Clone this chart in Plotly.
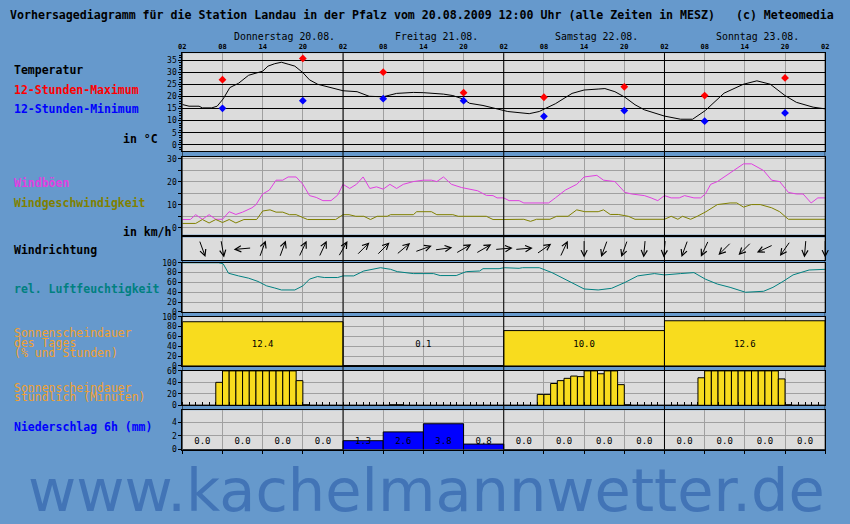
import math
import plotly.graph_objects as go

W, H = 850, 524
X0, X1 = 180, 829
FONT = "DejaVu Sans Mono"

# ---------------- data ----------------
hour_tick_labels = ["02", "08", "14", "20"] * 4 + ["02"]
day_labels = ["Donnerstag 20.08.", "Freitag 21.08.", "Samstag 22.08.", "Sonntag 23.08."]

temp_hours = [0, 1, 2.5, 3, 4.4, 5.2, 6.1, 6.7, 7.1, 8.4, 9.9, 12, 12.8, 13.8, 14.8, 15.8, 16.8, 18, 19,
              20.2, 22.2, 24, 26.1, 27.1, 27.9, 30, 32, 34.5, 36, 39, 40.4, 41.9, 42.9, 44.9, 46.8,
              48.6, 51.8, 53.3, 54.1, 55.7, 58.2, 60, 62.1, 63.1, 64.6, 66.1, 67.6, 69, 72, 74.4, 76.2,
              78.1, 80.9, 83.8, 85.8, 87.8, 90, 91.7, 94.2, 96]
temp_values = [16.7, 16.0, 16.0, 15.3, 15.3, 16.0, 19.0, 21.7, 23.7, 25.5, 28.8, 30.5, 32.6, 33.6, 34.2, 33.4,
               32.6, 29.9, 26.9, 25.1, 23.7, 22.4, 22.0, 21.0, 20.1, 19.9, 21.3, 21.7, 21.6, 21.0, 20.4,
               19.0, 17.2, 16.3, 14.9, 13.8, 12.9, 13.8, 14.9, 17.0, 21.3, 22.7, 23.1, 23.3, 22.0, 19.7,
               16.6, 14.5, 11.9, 10.6, 10.6, 14.2, 21.4, 25.1, 26.5, 25.1, 20.4, 17.6, 15.6, 14.9]

ext_hours = [6, 18, 30, 42, 54, 66, 78, 90]
tmax_values = [27.0, 35.8, 30.1, 21.6, 19.7, 24.0, 20.4, 27.7]
tmin_values = [15.1, 18.3, 19.1, 18.3, 11.8, 14.2, 9.8, 13.2]

gust_hours = [0, 1.2, 2, 3, 4, 5, 6, 7, 8, 9, 10.4, 11, 12, 13, 14, 15, 15.8, 17, 18, 19, 20, 21, 22.2,
              23.2, 24, 25, 26, 27, 28, 29, 30, 31, 32, 33, 34.5, 36, 37.2, 38, 39, 40.2, 41.7, 42.9,
              44.1, 45.4, 46.4, 47, 48, 48.8, 50.3, 51, 54.7, 55.7, 57.2, 58.9, 60, 61.9, 62.9, 64.6,
              66.1, 67.1, 69, 70, 71, 72, 73, 74.2, 75, 76.4, 77.4, 78.1, 78.9, 79.9, 81.8, 83.8, 85,
              86.8, 88, 89.2, 90.5, 91.7, 92.7, 93.9, 94.9, 96]
gust_values = [3.6, 3.6, 5.7, 3.7, 5.7, 3.7, 3.7, 7.0, 5.8, 6.8, 8.7, 10.0, 14.7, 16.4, 20.7, 20.7, 22.1,
               22.1, 18.9, 14.0, 13.2, 11.8, 11.8, 14.2, 18.9, 17.1, 18.9, 22.1, 17.1, 17.8, 16.8, 18.9,
               17.1, 18.9, 20.1, 20.7, 20.7, 20.1, 22.1, 18.9, 17.5, 16.8, 16.1, 14.1, 14.0, 13.0, 13.0,
               11.8, 11.8, 10.8, 10.8, 13.0, 16.4, 18.9, 22.1, 22.8, 20.7, 20.1, 15.4, 14.7, 14.0, 13.0,
               11.8, 14.0, 13.0, 13.0, 14.0, 13.0, 13.0, 14.7, 18.9, 20.1, 23.9, 27.8, 27.8, 24.9, 20.7,
               20.1, 15.4, 14.7, 14.7, 10.8, 13.0, 13.0]

mean_hours = [0, 2, 3, 4, 5, 6, 7, 8, 9.2, 11.1, 12, 13.1, 14, 15, 16, 17, 18.7, 22.9, 24, 24.9, 25.9,
              27.1, 28.1, 29.1, 30.6, 31.1, 34.5, 35, 37.2, 38, 40.4, 41.2, 45.4, 46.4, 48, 51, 52, 52.9,
              54.9, 55.9, 57.6, 58.9, 60.1, 62.1, 62.9, 63.9, 65.1, 66.6, 67.6, 72, 73, 74, 74.7, 75.9,
              76.9, 78.2, 79.9, 81.8, 82.8, 83.8, 85, 86.3, 88, 89.2, 90.5, 96]
mean_values = [1.9, 1.9, 3.6, 2.1, 3.6, 2.3, 3.6, 2.1, 3.6, 3.6, 7.3, 7.8, 6.8, 6.8, 5.7, 5.7, 3.6, 3.6,
               5.7, 5.7, 5.0, 5.0, 3.6, 5.0, 5.0, 5.7, 5.7, 7.0, 7.0, 5.7, 5.7, 5.0, 5.0, 3.6, 3.6, 3.7,
               2.8, 3.7, 3.7, 5.0, 5.0, 7.8, 7.0, 7.0, 7.8, 5.8, 5.8, 5.0, 3.7, 3.7, 5.0, 3.7, 5.0, 3.7,
               5.0, 7.0, 10.1, 10.8, 10.8, 9.0, 10.1, 10.1, 8.7, 7.0, 3.7, 3.7]

dir_hours = [0, 3, 6, 9, 12, 15, 18, 21, 24, 27, 30, 33, 36, 39, 42, 45, 48, 51, 54, 57, 60, 63, 66, 69,
             72, 75, 78, 81, 84, 87, 90, 93, 96]
dir_from_deg = [135, 340, 350, 85, 200, 200, 205, 205, 210, 225, 225, 230, 250, 262, 240, 240, 265, 265,
                235, 205, 0, 20, 20, 5, 5, 20, 25, 45, 45, 65, 35, 5, 0]

hum_hours = [0, 5.4, 6.1, 6.9, 8.4, 9.9, 11.3, 12.6, 13.8, 14.8, 16.8, 18, 19, 20.2, 21.2, 23.2, 24, 25.6,
             27.1, 28.4, 29.6, 31.1, 32.1, 34.5, 37.5, 38.5, 40.9, 42.4, 44.4, 44.9, 47.3, 48.1, 50.3,
             50.8, 53.3, 55.2, 57.2, 60, 62.1, 64.1, 66.1, 68, 70.5, 72, 74.4, 76.4, 78.1, 79.9, 81.8,
             84.1, 86.8, 88.2, 89.7, 91.2, 93.6, 96]
hum_values = [100, 100, 98, 78.7, 73.3, 68.7, 62, 53, 48.7, 44.7, 44.7, 53, 66.7, 72, 70, 70, 73.3, 73.3,
              83.3, 87.3, 90, 86.7, 82, 78, 78, 74, 74, 82, 83.3, 88, 88, 90, 88.7, 90, 90, 80, 66.7, 46.7,
              44.7, 48, 60, 73.3, 78, 75.3, 78, 80, 66.7, 56.7, 50, 40, 42, 50, 62, 75.3, 85.3, 86.7]

sun_day_pct = [90, 0.8, 72, 92]
sun_day_hours = ["12.4", "0.1", "10.0", "12.6"]

sun_hour_min = [0, 0, 0, 0, 0, 40, 60, 60, 60, 60, 60, 60, 60, 60, 60, 60, 60, 43, 1, 0, 0, 0, 0, 0,
                0, 0, 0, 0, 0, 0, 0, 1, 1, 0, 0, 0, 0, 0, 0, 0, 0, 0, 0, 0, 0, 0, 0, 0,
                0, 0, 0, 0, 0, 19, 19, 38, 43, 47, 51, 50, 60, 60, 55, 60, 60, 36, 1, 0, 0, 0, 0, 0,
                0, 0, 0, 0, 0, 48, 60, 60, 60, 60, 60, 60, 60, 60, 60, 60, 60, 46, 1, 0, 0, 0, 0, 0]

precip_mm = [0.0, 0.0, 0.0, 0.0, 1.3, 2.6, 3.8, 0.8, 0.0, 0.0, 0.0, 0.0, 0.0, 0.0, 0.0, 0.0]

# ---------------- colours ----------------
BG = "#6699cc"
PANEL = "#dcdcdc"
GRID = "#a0a0a0"
MAGENTA = "#e040e0"
OLIVE = "#808000"
TEAL = "#008080"
ORANGE = "#f0a030"
YELLOW = "#f8dc1e"


def ydom(top, bottom):
    return [1 - bottom / H, 1 - top / H]


def py(p):
    return 1 - p / H


fig = go.Figure()

# temperature
fig.add_trace(go.Scatter(x=temp_hours, y=temp_values, mode="lines", line=dict(color="black", width=1),
                         xaxis="x", yaxis="y"))
fig.add_trace(go.Scatter(x=ext_hours, y=tmax_values, mode="markers",
                         marker=dict(color="red", symbol="diamond", size=6), xaxis="x", yaxis="y"))
fig.add_trace(go.Scatter(x=ext_hours, y=tmin_values, mode="markers",
                         marker=dict(color="blue", symbol="diamond", size=6), xaxis="x", yaxis="y"))
# wind
fig.add_trace(go.Scatter(x=gust_hours, y=gust_values, mode="lines", line=dict(color=MAGENTA, width=1),
                         xaxis="x2", yaxis="y2"))
fig.add_trace(go.Scatter(x=mean_hours, y=mean_values, mode="lines", line=dict(color=OLIVE, width=1),
                         xaxis="x2", yaxis="y2"))
# humidity
fig.add_trace(go.Scatter(x=hum_hours, y=hum_values, mode="lines", line=dict(color=TEAL, width=1),
                         xaxis="x4", yaxis="y4"))
# daily sunshine
day_centers = [12 + 24 * i for i in range(len(sun_day_pct))]
fig.add_trace(go.Bar(x=day_centers, y=sun_day_pct, width=24, marker=dict(color=YELLOW, line=dict(color="black", width=1)),
                     xaxis="x5", yaxis="y5"))
fig.add_trace(go.Scatter(x=day_centers, y=[43] * len(day_centers), mode="text", text=sun_day_hours,
                         textfont=dict(family=FONT, size=9, color="black"), xaxis="x5", yaxis="y5"))
# hourly sunshine
fig.add_trace(go.Bar(x=[i + 0.5 for i in range(len(sun_hour_min))], y=sun_hour_min, width=1,
                     marker=dict(color=YELLOW, line=dict(color="black", width=1)), xaxis="x6", yaxis="y6"))
# precipitation
pc = [3 + 6 * i for i in range(len(precip_mm))]
fig.add_trace(go.Bar(x=pc, y=precip_mm, width=6, marker=dict(color="#0000ff", line=dict(color="black", width=1)),
                     xaxis="x7", yaxis="y7"))
fig.add_trace(go.Scatter(x=pc, y=[1.15] * len(pc), mode="text", text=["%.1f" % v for v in precip_mm],
                         textfont=dict(family=FONT, size=9, color="black"), xaxis="x7", yaxis="y7"))

xdom = [X0 / W, X1 / W]
tickvals = list(range(0, 97, 6))
xcommon = dict(range=[0, 96], domain=xdom, showgrid=True, gridcolor=GRID, gridwidth=1,
               tickvals=tickvals, showline=True, mirror=True, linecolor="black", linewidth=1,
               zeroline=False, fixedrange=True)
tickfont = dict(family=FONT, size=8, color="black")
ycommon = dict(showline=True, mirror=True, linecolor="black", linewidth=1, zeroline=False,
               fixedrange=True, tickfont=tickfont, ticks="outside", ticklen=3, tickcolor="black",
               showgrid=True, gridcolor=GRID)

layout = dict(
    width=W, height=H, margin=dict(l=0, r=0, t=0, b=0), paper_bgcolor=BG, plot_bgcolor=PANEL,
    showlegend=False, barmode="overlay", bargap=0,
    xaxis=dict(xcommon, anchor="y", side="top", ticktext=hour_tick_labels, ticks="",
               tickfont=dict(family=FONT, size=7, color="black", weight="bold")),
    yaxis=dict(ycommon, domain=ydom(50, 150), range=[-2.73, 37.97], tick0=0, dtick=5, gridcolor="black",
               minor=dict(dtick=1, ticks="outside", ticklen=2, tickcolor="black", showgrid=False)),
    xaxis2=dict(xcommon, anchor="y2", matches="x", showticklabels=False),
    yaxis2=dict(ycommon, domain=ydom(155.7, 234.7), range=[-2.99, 30.77], tick0=0, dtick=10,
                minor=dict(dtick=5, ticks="outside", ticklen=3, tickcolor="black", showgrid=True, gridcolor=GRID)),
    xaxis3=dict(xcommon, anchor="y3", matches="x", showticklabels=False),
    yaxis3=dict(ycommon, domain=ydom(237.5, 260.5), range=[0, 23], showticklabels=False, ticks="", showgrid=False),
    xaxis4=dict(xcommon, anchor="y4", matches="x", showticklabels=False),
    yaxis4=dict(ycommon, domain=ydom(263.3, 313.3), range=[0, 100], tick0=0, dtick=20),
    xaxis5=dict(xcommon, anchor="y5", matches="x", showticklabels=False),
    yaxis5=dict(ycommon, domain=ydom(318.3, 368.3), range=[0, 100], tick0=0, dtick=20),
    xaxis6=dict(xcommon, anchor="y6", matches="x", showticklabels=False,
                minor=dict(dtick=1, ticks="inside", ticklen=3, tickcolor="black", showgrid=False)),
    yaxis6=dict(ycommon, domain=ydom(373.3, 408.3), range=[0, 60], tick0=0, dtick=20),
    xaxis7=dict(xcommon, anchor="y7", matches="x", showticklabels=False, ticks="outside", ticklen=3,
                tickcolor="black"),
    yaxis7=dict(ycommon, domain=ydom(413.3, 453.3), range=[0, 5.8], tick0=0, dtick=2),
)
fig.update_layout(**layout)

# day boundary lines
shapes = []
for d in range(0, 97, 24):
    shapes.append(dict(type="line", xref="x", yref="paper", x0=d, x1=d, y0=py(453.3), y1=py(50),
                       line=dict(color="black", width=1), layer="above"))
fig.update_layout(shapes=shapes)

ann = []
# wind direction arrows
pxh = (X1 - X0) / 96.0
L = 18
for h, th in zip(dir_hours, dir_from_deg):
    r = math.radians(th)
    ux, uy = -math.sin(r), -math.cos(r)
    ann.append(dict(xref="x3", yref="y3", x=h + (L / 2 * ux) / pxh, y=11.5 + L / 2 * uy, ax=-L * ux, ay=L * uy,
                    text="", showarrow=True, arrowhead=5, arrowsize=1.2, arrowwidth=1, arrowcolor="black",
                    standoff=0, startstandoff=0))

# title, day labels
ann.append(dict(xref="paper", yref="paper", x=4 / W, y=py(11.5), xanchor="left", yanchor="middle",
                text="<b>Vorhersagediagramm für die Station Landau in der Pfalz vom 20.08.2009 12:00 Uhr (alle Zeiten in MESZ)   (c) Meteomedia</b>",
                showarrow=False, font=dict(family=FONT, size=11.6, color="black")))
for i, lab in enumerate(day_labels):
    ann.append(dict(xref="x", yref="paper", x=24 * i + 7.4, y=py(33), xanchor="left", yanchor="middle",
                    text=lab, showarrow=False, font=dict(family=FONT, size=9.9, color="black")))

# left labels
left = [
    ("<b>Temperatur</b>", 66.7, "black", 8),
    ("<b>12-Stunden-Maximum</b>", 87.3, "red", 8),
    ("<b>12-Stunden-Minimum</b>", 107.3, "blue", 8),
    ("<b>Windböen</b>", 182.3, MAGENTA, 8),
    ("<b>Windgeschwindigkeit</b>", 202.3, OLIVE, 8),
    ("<b>Windrichtung</b>", 250.7, "black", 8),
    ("<b>rel. Luftfeuchtigkeit</b>", 290, TEAL, 8),
    ("Sonnenscheindauer", 335, ORANGE, 8),
    ("des Tages", 345, ORANGE, 8),
    ("(% und Stunden)", 354.7, ORANGE, 8),
    ("Sonnenscheindauer", 390.3, ORANGE, 8),
    ("stündlich (Minuten)", 400, ORANGE, 8),
    ("<b>Niederschlag 6h (mm)</b>", 430, "blue", 8),
    ("<b>in °C</b>", 137.3, "black", 118),
    ("<b>in km/h</b>", 231.7, "black", 118),
]
for txt, yy, col, xx in left:
    ann.append(dict(xref="paper", yref="paper", x=xx / W, y=py(yy), xanchor="left", yanchor="middle",
                    text=txt, showarrow=False, font=dict(family=FONT, size=11.5, color=col)))

# watermark
ann.append(dict(xref="paper", yref="paper", x=427 / W, y=py(495), xanchor="center", yanchor="middle",
                text="www.kachelmannwetter.de", showarrow=False,
                font=dict(family="DejaVu Sans", size=59, color="#4274b6")))

fig.update_layout(annotations=ann)
fig.write_html("out.html", config={"displayModeBar": False, "staticPlot": True},
               post_script="document.documentElement.style.margin='0px';document.body.style.margin='0px';document.body.style.overflow='hidden';")
